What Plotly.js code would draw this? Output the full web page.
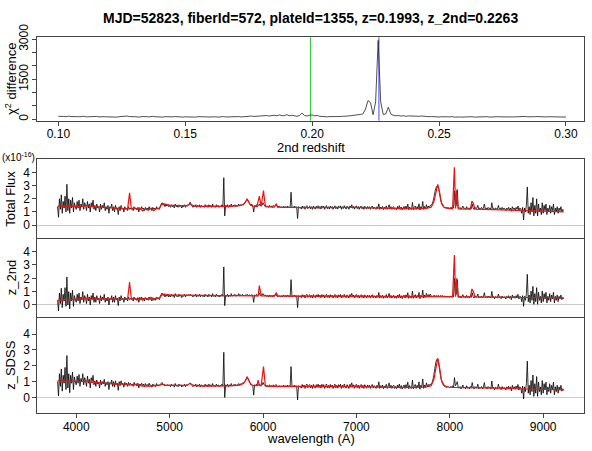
<!DOCTYPE html>
<html>
<head>
<meta charset="utf-8">
<script src="https://cdn.plot.ly/plotly-3.0.1.min.js"></script>
<style>
  html, body { margin: 0; padding: 0; background: #fff; }
  #chart { width: 592px; height: 451px; }
</style>
</head>
<body>
<div id="chart"></div>
<script>
// Object header and the two redshifts
const mjd = 52823, fiberId = 572, plateId = 1355;
const zSDSS = 0.1993, z2nd = 0.2263;

// chi^2 difference scan: one value per 0.001 in redshift, 0.100 .. 0.300
const zScanStart = 0.100, zScanStep = 0.001;
const chi2Diff = [
  110, 120, 105, 95, 115, 100, 90, 105, 95, 100,
  110, 90, 100, 85, 95, 105, 90, 80, 95, 90,
  85, 100, 90, 80, 95, 105, 90, 120, 100, 85,
  95, 90, 80, 100, 85, 95, 90, 110, 95, 85,
  90, 80, 95, 85, 75, 90, 100, 85, 95, 80,
  90, 85, 100, 90, 80, 95, 85, 100, 90, 85,
  95, 85, 90, 80, 95, 100, 85, 90, 80, 95,
  90, 100, 85, 95, 110, 100, 120, 105, 110, 130,
  115, 125, 140, 120, 130, 150, 130, 160, 140, 130,
  170, 130, 150, 120, 110, 140, 230, 140, 120, 150,
  160, 130, 140, 110, 100, 95, 90, 100, 95, 90,
  95, 100, 110, 105, 120, 130, 140, 160, 150, 180,
  200, 380, 700, 620, 170, 650, 2960, 650, 180, 200,
  450, 190, 150, 130, 140, 120, 130, 110, 125, 115,
  130, 115, 110, 120, 105, 110, 95, 100, 90, 95,
  85, 95, 80, 90, 85, 100, 80, 90, 85, 80,
  90, 80, 85, 95, 80, 85, 90, 80, 85, 95,
  80, 90, 85, 95, 90, 85, 100, 90, 95, 85,
  90, 100, 85, 95, 105, 90, 100, 110, 95, 100,
  90, 100, 85, 95, 90, 100, 85, 80, 90, 85,
  80
];

// observed spectra (1e-16 units), one value per 10 A from 3800 A to 9220 A
const specStart = 3800, specStep = 10;
const fluxTotal = [
  1.4, 0.6, 2.0, 1.2, 2.3, 0.9, 1.8, 1.3, 2.2, 1.0, 3.1, 1.1, 2.0, 0.9, 1.9, 1.3, 2.1, 1.0, 1.7, 1.4,
  1.2, 1.8, 1.3, 1.9, 1.1, 1.6, 1.4, 2.0, 1.2, 1.7, 1.5, 1.1, 1.8, 1.3, 1.6, 1.0, 1.7, 1.4, 1.9, 1.2,
  1.5, 1.1, 1.6, 1.3, 1.4, 1.0, 1.6, 1.2, 1.5, 1.3, 1.7, 1.1, 1.4, 1.2, 1.5, 0.9, 1.4, 1.3, 1.6, 1.1,
  1.4, 1.0, 1.5, 1.2, 1.3, 0.8, 1.4, 1.1, 1.5, 1.2, 1.3, 1.0, 1.4, 1.2, 1.3, 1.1, 1.4, 1.2, 1.3, 1.2,
  1.3, 1.1, 1.4, 1.2, 1.3, 1.15, 1.35, 1.0, 1.3, 1.2, 1.4, 1.2, 1.3, 1.1, 1.35, 1.2, 1.3, 1.15, 1.4, 1.2,
  1.3, 1.1, 1.35, 1.2, 1.3, 1.15, 1.4, 1.25, 1.3, 1.2, 1.45, 1.6, 1.7, 1.5, 1.6, 1.4, 1.55, 1.45, 1.6, 1.4,
  1.5, 1.35, 1.55, 1.4, 1.5, 1.3, 1.6, 1.4, 1.45, 1.35, 1.55, 1.4, 1.5, 1.3, 1.45, 1.4, 1.55, 1.35, 1.5, 1.45,
  1.5, 1.6, 1.75, 1.6, 1.45, 1.35, 1.5, 1.4, 1.55, 1.35, 1.5, 1.4, 1.55, 1.35, 1.5, 1.4, 1.45, 1.35, 1.55, 1.4,
  1.5, 1.35, 1.55, 1.4, 1.5, 1.35, 1.6, 1.4, 1.45, 1.35, 1.55, 1.4, 1.5, 1.35, 1.45, 1.4, 1.55, 1.4, 3.6, 0.7,
  1.5, 1.4, 1.55, 1.35, 1.5, 1.4, 1.6, 1.4, 1.5, 1.45, 1.55, 1.4, 1.5, 1.45, 1.6, 1.45, 1.55, 1.5, 1.6, 1.55,
  1.6, 1.75, 1.85, 2.0, 1.85, 1.7, 1.55, 1.5, 1.6, 1.45, 1.0, 1.5, 1.45, 1.55, 1.4, 1.5, 1.6, 1.45, 1.55, 1.5,
  1.7, 1.55, 1.45, 1.5, 1.4, 1.45, 1.35, 1.5, 1.4, 1.45, 1.35, 1.5, 1.4, 1.45, 1.55, 1.4, 1.35, 1.45, 1.4, 1.35,
  1.4, 1.3, 1.45, 1.35, 1.4, 1.3, 1.45, 1.35, 1.4, 1.3, 2.5, 1.3, 1.4, 1.35, 1.45, 1.3, 1.4, 0.5, 1.4, 1.35,
  1.35, 1.22, 1.45, 1.28, 1.42, 1.2, 1.4, 1.48, 1.25, 1.38, 1.45, 1.24, 1.4, 1.2, 1.46, 1.3, 1.22, 1.44, 1.28, 1.47,
  1.26, 1.42, 1.22, 1.46, 1.3, 1.44, 1.2, 1.38, 1.48, 1.25, 1.4, 1.22, 1.45, 1.28, 1.42, 1.2, 1.36, 1.47, 1.24, 1.4,
  1.22, 1.44, 1.3, 1.47, 1.2, 1.4, 1.26, 1.48, 1.32, 1.22, 1.44, 1.3, 1.2, 1.46, 1.36, 1.55, 1.28, 1.43, 1.21, 1.4,
  1.46, 1.25, 1.41, 1.2, 1.38, 1.45, 1.24, 1.4, 1.2, 1.44, 1.3, 1.21, 1.42, 1.26, 1.4, 1.2, 1.37, 1.45, 1.22, 1.38,
  1.3, 1.2, 1.4, 1.25, 1.62, 1.2, 1.38, 1.24, 1.42, 1.18, 1.36, 1.24, 1.46, 1.2, 1.34, 1.55, 1.22, 1.4, 1.2, 1.36,
  1.4, 1.2, 1.32, 1.18, 1.42, 1.24, 1.48, 1.2, 1.38, 1.16, 1.3, 1.42, 1.2, 1.44, 1.25, 1.6, 1.18, 1.38, 1.24, 1.2,
  1.72, 1.18, 1.36, 1.45, 1.2, 1.4, 1.25, 1.62, 1.15, 1.4, 1.26, 1.8, 1.2, 1.42, 1.25, 1.55, 1.3, 1.45, 1.3, 1.5,
  1.5, 1.6, 1.8, 2.1, 2.5, 2.8, 2.95, 3.0, 2.8, 2.4, 2.0, 1.7, 1.5, 1.4, 1.35, 1.3, 1.32, 1.28, 1.35, 1.3,
  1.28, 1.35, 1.3, 1.4, 1.3, 2.6, 1.4, 1.5, 2.7, 1.3, 1.25, 1.35, 1.2, 1.3, 1.45, 1.25, 1.3, 1.2, 1.4, 1.25,
  1.3, 1.2, 1.35, 1.25, 1.6, 1.3, 1.2, 1.35, 1.25, 1.3, 1.5, 1.2, 1.3, 1.25, 1.35, 1.2, 1.3, 1.6, 1.25, 1.3,
  1.2, 1.35, 1.25, 1.3, 1.2, 1.7, 1.25, 1.3, 1.15, 1.3, 1.25, 1.2, 1.5, 1.25, 1.3, 1.15, 1.35, 1.2, 1.3, 1.25,
  1.1, 1.3, 1.2, 1.35, 1.15, 1.3, 1.05, 1.4, 1.2, 1.3, 1.15, 1.35, 1.2, 1.45, 1.1, 1.3, 1.25, 0.9, 1.35, 0.4,
  1.3, 1.0, 1.5, 2.9, 0.9, 1.4, 0.8, 1.7, 1.0, 2.1, 0.7, 1.5, 0.9, 2.0, 0.7, 1.6, 1.0, 1.3, 0.8, 1.7,
  0.9, 1.5, 1.1, 1.6, 0.8, 1.3, 1.0, 1.5, 0.9, 1.4, 1.1, 1.6, 0.8, 1.3, 1.0, 1.4, 0.9, 1.3, 1.1, 1.4,
  1.0, 1.2, 1.1
];
const fluxZ2nd = [
  0.35, -0.45, 0.9, 0.1, 1.25, -0.2, 0.8, 0.3, 1.3, -0.1, 2.1, 0.0, 1.0, -0.3, 0.9, 0.3, 1.1, -0.1, 0.7, 0.4,
  0.2, 0.8, 0.3, 0.9, 0.1, 0.6, 0.4, 1.0, 0.2, 0.7, 0.5, 0.1, 0.8, 0.3, 0.6, 0.0, 0.7, 0.4, 0.9, 0.2,
  0.6, 0.2, 0.7, 0.4, 0.5, 0.1, 0.7, 0.3, 0.6, 0.4, 0.8, 0.2, 0.5, 0.3, 0.6, 0.0, 0.5, 0.4, 0.7, 0.2,
  0.6, 0.2, 0.7, 0.4, 0.5, -0.05, 0.6, 0.3, 0.7, 0.4, 0.5, 0.2, 0.6, 0.4, 0.5, 0.3, 0.6, 0.4, 0.5, 0.4,
  0.5, 0.3, 0.6, 0.4, 0.5, 0.35, 0.55, 0.2, 0.5, 0.4, 0.6, 0.4, 0.5, 0.3, 0.55, 0.4, 0.5, 0.35, 0.6, 0.4,
  0.5, 0.3, 0.55, 0.4, 0.5, 0.35, 0.6, 0.45, 0.5, 0.4, 0.65, 0.8, 0.9, 0.7, 0.8, 0.6, 0.75, 0.65, 0.8, 0.6,
  0.75, 0.6, 0.8, 0.65, 0.75, 0.55, 0.85, 0.65, 0.7, 0.6, 0.8, 0.65, 0.75, 0.55, 0.7, 0.65, 0.8, 0.6, 0.75, 0.7,
  0.75, 0.7, 0.8, 0.72, 0.7, 0.6, 0.75, 0.65, 0.8, 0.6, 0.75, 0.65, 0.8, 0.6, 0.75, 0.65, 0.7, 0.6, 0.8, 0.65,
  0.75, 0.6, 0.8, 0.65, 0.75, 0.6, 0.85, 0.65, 0.7, 0.6, 0.8, 0.65, 0.75, 0.6, 0.7, 0.65, 0.8, 0.65, 2.85, -0.05,
  0.75, 0.65, 0.8, 0.6, 0.75, 0.65, 0.85, 0.65, 0.75, 0.7, 0.8, 0.65, 0.75, 0.7, 0.85, 0.7, 0.75, 0.7, 0.8, 0.72,
  0.7, 0.75, 0.72, 0.8, 0.7, 0.72, 0.75, 0.7, 0.78, 0.68, 0.2, 0.75, 0.7, 0.8, 0.65, 0.75, 0.9, 0.7, 0.78, 0.72,
  0.85, 0.75, 0.7, 0.75, 0.65, 0.7, 0.6, 0.75, 0.65, 0.7, 0.6, 0.75, 0.65, 0.7, 0.8, 0.65, 0.6, 0.7, 0.65, 0.6,
  0.7, 0.6, 0.75, 0.65, 0.7, 0.6, 0.75, 0.65, 0.7, 0.6, 1.9, 0.6, 0.7, 0.65, 0.75, 0.6, 0.7, -0.2, 0.7, 0.65,
  0.67, 0.54, 0.77, 0.6, 0.74, 0.52, 0.72, 0.8, 0.57, 0.7, 0.77, 0.56, 0.72, 0.52, 0.78, 0.62, 0.54, 0.76, 0.6, 0.79,
  0.58, 0.74, 0.54, 0.78, 0.62, 0.76, 0.52, 0.7, 0.8, 0.57, 0.72, 0.54, 0.77, 0.6, 0.74, 0.52, 0.68, 0.79, 0.56, 0.72,
  0.54, 0.76, 0.62, 0.79, 0.52, 0.72, 0.58, 0.8, 0.64, 0.54, 0.76, 0.62, 0.52, 0.78, 0.68, 0.87, 0.6, 0.75, 0.53, 0.72,
  0.78, 0.57, 0.73, 0.52, 0.7, 0.77, 0.56, 0.72, 0.52, 0.76, 0.62, 0.53, 0.74, 0.58, 0.72, 0.52, 0.69, 0.77, 0.54, 0.7,
  0.62, 0.52, 0.72, 0.57, 0.94, 0.52, 0.7, 0.56, 0.74, 0.5, 0.68, 0.56, 0.78, 0.52, 0.66, 0.87, 0.54, 0.72, 0.52, 0.68,
  0.72, 0.52, 0.64, 0.5, 0.74, 0.56, 0.8, 0.52, 0.7, 0.48, 0.62, 0.74, 0.52, 0.76, 0.57, 0.92, 0.5, 0.7, 0.56, 0.52,
  1.04, 0.5, 0.68, 0.77, 0.52, 0.72, 0.57, 0.94, 0.47, 0.72, 0.58, 1.12, 0.52, 0.74, 0.57, 0.87, 0.62, 0.77, 0.62, 0.82,
  0.68, 0.62, 0.7, 0.66, 0.72, 0.64, 0.7, 0.66, 0.72, 0.64, 0.7, 0.66, 0.72, 0.62, 0.67, 0.62, 0.64, 0.6, 0.67, 0.62,
  0.6, 0.67, 0.62, 0.72, 0.62, 2.0, 0.72, 0.82, 1.9, 0.62, 0.57, 0.67, 0.52, 0.62, 0.77, 0.57, 0.62, 0.52, 0.72, 0.57,
  0.62, 0.52, 0.67, 0.57, 0.92, 0.62, 0.52, 0.67, 0.57, 0.62, 0.82, 0.52, 0.62, 0.57, 0.67, 0.52, 0.62, 0.92, 0.57, 0.62,
  0.52, 0.67, 0.57, 0.62, 0.52, 1.02, 0.57, 0.62, 0.47, 0.62, 0.57, 0.52, 0.82, 0.57, 0.62, 0.47, 0.67, 0.52, 0.62, 0.57,
  0.45, 0.65, 0.55, 0.7, 0.5, 0.65, 0.4, 0.75, 0.55, 0.65, 0.5, 0.7, 0.55, 0.8, 0.45, 0.65, 0.6, 0.25, 0.7, -0.1,
  0.65, 0.35, 0.85, 2.3, 0.25, 0.75, 0.15, 1.05, 0.35, 1.4, 0.05, 0.85, 0.25, 1.3, 0.05, 0.95, 0.35, 0.65, 0.15, 1.05,
  0.25, 0.85, 0.45, 0.95, 0.15, 0.65, 0.35, 0.85, 0.25, 0.75, 0.45, 0.95, 0.15, 0.65, 0.35, 0.75, 0.25, 0.65, 0.45, 0.75,
  0.4, 0.55, 0.45
];
const fluxZSDSS = [
  1.0, 0.1, 1.5, 0.7, 1.8, 0.4, 1.4, 0.9, 1.9, 0.5, 2.65, 0.6, 1.5, 0.3, 1.4, 0.9, 1.6, 0.5, 1.3, 1.0,
  0.8, 1.35, 0.9, 1.45, 0.7, 1.2, 1.0, 1.5, 0.8, 1.25, 1.05, 0.7, 1.35, 0.9, 1.15, 0.6, 1.25, 1.0, 1.4, 0.8,
  1.05, 0.7, 1.1, 0.85, 0.95, 0.6, 1.1, 0.8, 1.0, 0.85, 1.15, 0.7, 0.95, 0.8, 1.0, 0.5, 0.95, 0.85, 1.1, 0.7,
  1.0, 0.65, 1.05, 0.8, 0.9, 0.45, 1.0, 0.75, 1.05, 0.8, 0.9, 0.65, 0.95, 0.8, 0.9, 0.7, 0.95, 0.8, 0.9, 0.8,
  0.85, 0.7, 0.95, 0.8, 0.85, 0.72, 0.9, 0.6, 0.85, 0.78, 0.9, 0.75, 0.85, 0.68, 0.88, 0.75, 0.82, 0.7, 0.9, 0.75,
  0.8, 0.65, 0.85, 0.72, 0.8, 0.68, 0.88, 0.75, 0.8, 0.72, 0.85, 0.9, 0.95, 0.8, 0.85, 0.72, 0.8, 0.74, 0.82, 0.72,
  0.8, 0.68, 0.84, 0.72, 0.8, 0.65, 0.88, 0.72, 0.76, 0.68, 0.84, 0.72, 0.8, 0.66, 0.76, 0.72, 0.84, 0.68, 0.8, 0.76,
  0.8, 0.85, 0.92, 0.82, 0.76, 0.68, 0.8, 0.72, 0.84, 0.68, 0.8, 0.72, 0.84, 0.68, 0.8, 0.72, 0.76, 0.68, 0.84, 0.72,
  0.8, 0.68, 0.84, 0.72, 0.8, 0.68, 0.88, 0.72, 0.76, 0.68, 0.84, 0.72, 0.8, 0.68, 0.76, 0.72, 0.84, 0.72, 2.85, 0.0,
  0.8, 0.72, 0.84, 0.68, 0.8, 0.72, 0.88, 0.72, 0.8, 0.76, 0.84, 0.72, 0.8, 0.78, 0.88, 0.8, 0.86, 0.84, 0.92, 0.9,
  0.95, 1.05, 1.15, 1.3, 1.2, 1.05, 0.9, 0.85, 0.82, 0.75, 0.15, 0.8, 0.75, 0.85, 0.72, 0.8, 0.85, 0.75, 0.82, 0.78,
  0.95, 0.82, 0.75, 0.8, 0.7, 0.75, 0.66, 0.8, 0.7, 0.75, 0.66, 0.8, 0.7, 0.75, 0.82, 0.7, 0.66, 0.75, 0.7, 0.66,
  0.74, 0.66, 0.78, 0.7, 0.74, 0.66, 0.78, 0.7, 0.74, 0.66, 1.95, 0.66, 0.74, 0.7, 0.78, 0.66, 0.74, -0.15, 0.74, 0.7,
  0.72, 0.59, 0.82, 0.65, 0.79, 0.57, 0.77, 0.85, 0.62, 0.75, 0.82, 0.61, 0.77, 0.57, 0.83, 0.67, 0.59, 0.81, 0.65, 0.84,
  0.63, 0.79, 0.59, 0.83, 0.67, 0.81, 0.57, 0.75, 0.85, 0.62, 0.77, 0.59, 0.82, 0.65, 0.79, 0.57, 0.73, 0.84, 0.61, 0.77,
  0.59, 0.81, 0.67, 0.84, 0.57, 0.77, 0.63, 0.85, 0.69, 0.59, 0.81, 0.67, 0.57, 0.83, 0.73, 0.92, 0.65, 0.8, 0.58, 0.77,
  0.83, 0.62, 0.78, 0.57, 0.75, 0.82, 0.61, 0.77, 0.57, 0.81, 0.67, 0.58, 0.79, 0.63, 0.77, 0.57, 0.74, 0.82, 0.59, 0.75,
  0.67, 0.57, 0.77, 0.62, 0.99, 0.57, 0.75, 0.61, 0.79, 0.55, 0.73, 0.61, 0.83, 0.57, 0.71, 0.92, 0.59, 0.77, 0.57, 0.73,
  0.77, 0.57, 0.69, 0.55, 0.79, 0.61, 0.85, 0.57, 0.75, 0.53, 0.67, 0.79, 0.57, 0.81, 0.62, 0.97, 0.55, 0.75, 0.61, 0.57,
  1.09, 0.55, 0.73, 0.82, 0.57, 0.77, 0.62, 0.99, 0.52, 0.77, 0.63, 1.17, 0.57, 0.79, 0.62, 0.92, 0.67, 0.82, 0.72, 0.85,
  0.8, 0.92, 1.15, 1.45, 1.85, 2.2, 2.4, 2.4, 2.2, 1.8, 1.4, 1.1, 0.9, 0.78, 0.72, 0.67, 0.68, 0.63, 0.7, 0.64,
  0.62, 0.69, 0.63, 0.74, 0.64, 1.25, 0.74, 0.84, 1.0, 0.64, 0.59, 0.69, 0.54, 0.64, 0.79, 0.59, 0.64, 0.54, 0.74, 0.59,
  0.64, 0.54, 0.69, 0.59, 0.94, 0.64, 0.54, 0.69, 0.59, 0.64, 0.84, 0.54, 0.64, 0.59, 0.69, 0.54, 0.64, 0.94, 0.59, 0.64,
  0.54, 0.69, 0.59, 0.64, 0.54, 1.04, 0.59, 0.64, 0.49, 0.64, 0.59, 0.54, 0.84, 0.59, 0.64, 0.49, 0.69, 0.54, 0.64, 0.59,
  0.47, 0.67, 0.57, 0.72, 0.52, 0.67, 0.42, 0.77, 0.57, 0.67, 0.52, 0.72, 0.57, 0.82, 0.47, 0.67, 0.62, 0.27, 0.72, -0.1,
  0.67, 0.37, 0.87, 2.3, 0.27, 0.77, 0.17, 1.07, 0.37, 1.42, 0.07, 0.87, 0.27, 1.32, 0.07, 0.97, 0.37, 0.67, 0.17, 1.07,
  0.27, 0.87, 0.47, 0.97, 0.17, 0.67, 0.37, 0.87, 0.27, 0.77, 0.47, 0.97, 0.17, 0.67, 0.37, 0.77, 0.27, 0.67, 0.47, 0.77,
  0.4, 0.55, 0.45
];

// fitted models (red), sampled where the features are
const modelWave = [
  3800, 3850, 3900, 3950, 4000, 4060, 4100, 4120, 4140, 4200,
  4300, 4400, 4460, 4480, 4500, 4550, 4571, 4590, 4620, 4650,
  4680, 4710, 4740, 4770, 4800, 4830, 4860, 4890, 4920, 4950,
  5000, 5100, 5180, 5220, 5260, 5350, 5450, 5550, 5650, 5750,
  5790, 5810, 5830, 5850, 5870, 5900, 5935, 5947, 5961, 5980,
  6005, 6025, 6060, 6120, 6141, 6160, 6250, 6400, 6600, 6800,
  7000, 7200, 7400, 7600, 7750, 7800, 7830, 7850, 7871, 7890,
  7910, 7940, 7980, 8030, 8049, 8062, 8074, 8090, 8150, 8220,
  8237, 8254, 8270, 8400, 8600, 8800, 9000, 9220
];
const modelTotal = [
  1.45, 1.44, 1.43, 1.42, 1.42, 1.42, 1.46, 1.54, 1.43, 1.41,
  1.35, 1.30, 1.27, 1.34, 1.25, 1.23, 2.45, 1.24, 1.33, 1.24,
  1.31, 1.08, 1.22, 1.12, 1.30, 1.10, 1.28, 1.26, 1.64, 1.60,
  1.52, 1.48, 1.48, 1.60, 1.45, 1.42, 1.42, 1.42, 1.43, 1.48,
  1.57, 1.74, 1.99, 1.74, 1.50, 1.42, 1.43, 1.78, 2.21, 1.42,
  2.63, 1.40, 1.37, 1.37, 1.60, 1.37, 1.35, 1.33, 1.33, 1.34,
  1.35, 1.30, 1.26, 1.24, 1.28, 1.36, 1.77, 2.57, 3.10, 2.52,
  1.72, 1.36, 1.27, 1.25, 4.39, 1.26, 2.64, 1.24, 1.23, 1.22,
  1.82, 1.62, 1.22, 1.18, 1.14, 1.10, 1.06, 1.00
];
const model2nd = [
  0.35, 0.38, 0.40, 0.42, 0.44, 0.45, 0.46, 0.46, 0.46, 0.46,
  0.45, 0.45, 0.44, 0.44, 0.43, 0.43, 1.72, 0.45, 0.55, 0.38,
  0.55, 0.36, 0.52, 0.40, 0.58, 0.38, 0.55, 0.50, 0.80, 0.82,
  0.76, 0.74, 0.72, 0.72, 0.71, 0.70, 0.70, 0.70, 0.70, 0.70,
  0.69, 0.69, 0.69, 0.69, 0.68, 0.68, 0.68, 0.68, 1.45, 0.68,
  0.68, 0.68, 0.67, 0.67, 0.90, 0.67, 0.66, 0.65, 0.65, 0.65,
  0.65, 0.64, 0.63, 0.62, 0.62, 0.62, 0.62, 0.62, 0.62, 0.62,
  0.62, 0.61, 0.61, 0.61, 3.75, 0.62, 2.00, 0.61, 0.60, 0.60,
  1.20, 1.00, 0.60, 0.58, 0.57, 0.56, 0.55, 0.53
];
const modelSDSS = [
  1.05, 1.04, 1.02, 1.00, 0.98, 0.97, 1.00, 1.08, 0.97, 0.95,
  0.90, 0.85, 0.83, 0.90, 0.82, 0.80, 0.80, 0.79, 0.78, 0.86,
  0.76, 0.72, 0.70, 0.72, 0.72, 0.72, 0.73, 0.76, 0.84, 0.78,
  0.76, 0.74, 0.76, 0.88, 0.74, 0.72, 0.72, 0.72, 0.73, 0.78,
  0.88, 1.05, 1.30, 1.05, 0.82, 0.74, 0.75, 1.10, 0.76, 0.74,
  1.95, 0.72, 0.70, 0.70, 0.70, 0.70, 0.69, 0.68, 0.68, 0.69,
  0.70, 0.66, 0.63, 0.62, 0.66, 0.74, 1.15, 1.95, 2.48, 1.90,
  1.10, 0.75, 0.66, 0.64, 0.64, 0.64, 0.64, 0.63, 0.63, 0.62,
  0.62, 0.62, 0.62, 0.60, 0.57, 0.54, 0.51, 0.47
];

// tick labels
const zTicks = [0.10, 0.15, 0.20, 0.25, 0.30];
const chi2Ticks = [0, 1500, 3000];
const chi2MinorTicks = [500, 1000, 2000, 2500];
const waveTicks = [4000, 5000, 6000, 7000, 8000, 9000];
const fluxTicks = [0, 1, 2, 3, 4];
const panelNames = ['Total Flux', 'z_2nd', 'z_SDSS'];

const FONT = 'Liberation Sans, Arial, Helvetica, sans-serif';
const W = 592, H = 451;

// pixel helpers for the frame layout
const px = v => v / W;
const py = v => 1 - v / H;

const zScan = chi2Diff.map((_, i) => +(zScanStart + i * zScanStep).toFixed(3));
const specWave = fluxTotal.map((_, i) => specStart + i * specStep);

const frame = {
  showline: true, mirror: true, linecolor: '#444', linewidth: 1,
  showgrid: false, zeroline: false,
  ticks: 'outside', ticklen: 4, tickcolor: '#444', tickwidth: 1,
  tickfont: { family: FONT, size: 12, color: '#000' }
};
const xDom = [px(37.3), px(584)];

const traces = [{
  x: zScan, y: chi2Diff, xaxis: 'x', yaxis: 'y', type: 'scatter', mode: 'lines',
  line: { color: '#222', width: 0.8 }, hoverinfo: 'skip'
}];

const panelFlux = [fluxTotal, fluxZ2nd, fluxZSDSS];
const panelModel = [modelTotal, model2nd, modelSDSS];
panelFlux.forEach((flux, k) => {
  const ax = k + 2;
  traces.push({
    x: specWave, y: flux, xaxis: 'x' + ax, yaxis: 'y' + ax, type: 'scatter', mode: 'lines',
    line: { color: '#000', width: 0.8, simplify: false }, hoverinfo: 'skip'
  });
  traces.push({
    x: modelWave, y: panelModel[k], xaxis: 'x' + ax, yaxis: 'y' + ax, type: 'scatter', mode: 'lines',
    line: { color: '#ee1111', width: 1.2 }, hoverinfo: 'skip'
  });
});

const titleFont = { family: FONT, size: 13, color: '#000' };

const layout = {
  width: W, height: H, autosize: false,
  margin: { l: 0, r: 0, t: 0, b: 0 },
  paper_bgcolor: '#fff', plot_bgcolor: '#fff',
  showlegend: false,
  font: { family: FONT, size: 12, color: '#000' },
  title: {
    text: `MJD=${mjd}, fiberId=${fiberId}, plateId=${plateId}, z=${zSDSS}, z_2nd=${z2nd}`,
    font: { family: FONT, size: 14, weight: 'bold', color: '#000' },
    x: px(310.6), xanchor: 'center', y: py(18), yanchor: 'middle'
  },
  xaxis: { ...frame, domain: xDom, anchor: 'y', range: [0.0917, 0.3071],
    tickvals: zTicks, ticktext: zTicks.map(v => v.toFixed(2)), ticklabelstandoff: -2 },
  yaxis: { ...frame, domain: [py(120.7), py(37.3)], anchor: 'x', range: [-55, 3075],
    tickvals: chi2Ticks, tickangle: -90,
    minor: { tickmode: 'array', tickvals: chi2MinorTicks, ticks: 'outside', ticklen: 4,
      tickcolor: '#444', tickwidth: 1, showgrid: false } },
  shapes: [
    { type: 'line', xref: 'x', yref: 'y domain', x0: zSDSS, x1: zSDSS, y0: 0, y1: 1, layer: 'below',
      line: { color: '#22cc22', width: 1 } },
    { type: 'line', xref: 'x', yref: 'y domain', x0: z2nd, x1: z2nd, y0: 0, y1: 1, layer: 'below',
      line: { color: '#4444ff', width: 1 } }
  ],
  annotations: [
    { text: 'χ<sup>2</sup> difference', xref: 'paper', yref: 'paper', x: px(11), y: py(79),
      textangle: -90, showarrow: false, xanchor: 'center', yanchor: 'middle', font: titleFont },
    { text: '2nd redshift', xref: 'paper', yref: 'paper', x: px(310.6), y: py(147),
      showarrow: false, xanchor: 'center', yanchor: 'middle', font: titleFont },
    { text: 'wavelength (A)', xref: 'paper', yref: 'paper', x: px(310.6), y: py(438),
      showarrow: false, xanchor: 'center', yanchor: 'middle', font: titleFont },
    { text: '(x10<sup>-16</sup>)', xref: 'paper', yref: 'paper', x: 0, y: py(157),
      showarrow: false, xanchor: 'left', yanchor: 'middle', font: { family: FONT, size: 10 } }
  ]
};

// the three spectrum panels, stacked; the middle one borrows its top and
// bottom edges from its neighbours so the dividers stay one pixel wide
const panelTops = [159.3, 238.3, 318.3];
const panelBottoms = [238.3, 318.3, 413.3];
panelNames.forEach((name, k) => {
  const ax = k + 2;
  const last = k === panelNames.length - 1;
  layout['xaxis' + ax] = { ...frame, domain: xDom, anchor: 'y' + ax, range: [3583, 9437],
    tickvals: waveTicks, showticklabels: last, ticks: last ? 'outside' : '',
    showline: k !== 1, ticklabelstandoff: -2 };
  layout['yaxis' + ax] = { ...frame, domain: [py(panelBottoms[k]), py(panelTops[k])],
    anchor: 'x' + ax, range: [-1, 5], tickvals: fluxTicks,
    zeroline: true, zerolinecolor: '#cccccc', zerolinewidth: 1 };
  layout.annotations.push({
    text: name, xref: 'paper', yref: 'paper', x: px(11),
    y: py((panelTops[k] + panelBottoms[k]) / 2), textangle: -90, showarrow: false,
    xanchor: 'center', yanchor: 'middle', font: titleFont
  });
});

Plotly.newPlot('chart', traces, layout, { staticPlot: true, displayModeBar: false });
</script>
</body>
</html>
